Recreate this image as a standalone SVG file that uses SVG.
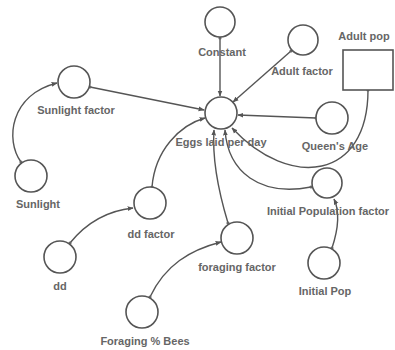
<svg xmlns="http://www.w3.org/2000/svg" width="395" height="350" viewBox="0 0 395 350">
<defs>
<marker id="arr" viewBox="0 0 10 10" refX="9" refY="5" markerWidth="6" markerHeight="6" orient="auto" markerUnits="userSpaceOnUse">
<path d="M0,1 L10,5 L0,9 z" fill="#555"/>
</marker>
<marker id="src" viewBox="0 0 10 10" refX="5" refY="5" markerWidth="4" markerHeight="4" markerUnits="userSpaceOnUse">
<circle cx="5" cy="5" r="4" fill="#666"/>
</marker>
</defs>
<style>
.n{fill:#fff;stroke:#555;stroke-width:1.6}
.c{fill:none;stroke:#555;stroke-width:1.4;marker-end:url(#arr);marker-start:url(#src)}
text{font-family:"Liberation Sans",Arial,sans-serif;font-size:11px;font-weight:bold;fill:#666;text-anchor:middle}
</style>
<rect width="395" height="350" fill="#fff"/>
<g id="connectors">
<path class="c" d="M220,38 L220,96"/>
<path class="c" d="M291,51 L233,102"/>
<path class="c" d="M90,87 L204,110"/>
<path class="c" d="M316,118 L238,115"/>
<path class="c" d="M368,90 C368,180 290,190 232,128"/>
<path class="c" d="M311,187 C260,197 228,172 225,130"/>
<path class="c" d="M228,223 C218,190 212,160 214,130"/>
<path class="c" d="M152,187 C155,150 180,125 205,118"/>
<path class="c" d="M21,162 C5,140 10,95 57,83"/>
<path class="c" d="M70,243 Q95,212 133,208"/>
<path class="c" d="M150,297 C165,265 190,250 221,242"/>
<path class="c" d="M332,248 C338,230 340,212 334,199"/>
</g>
<g id="constant"><circle class="n" cx="220" cy="22" r="15"/><text x="222" y="56">Constant</text></g>
<g id="adult-factor"><circle class="n" cx="303" cy="40" r="15"/><text x="302" y="75">Adult factor</text></g>
<g id="adult-pop"><rect class="n" x="343" y="50" width="50" height="40"/><text x="364" y="40">Adult pop</text></g>
<g id="eggs"><circle class="n" cx="221" cy="113" r="16"/><text x="221" y="146">Eggs laid per day</text></g>
<g id="queens-age"><circle class="n" cx="332" cy="118" r="16"/><text x="335" y="150">Queen's Age</text></g>
<g id="sunlight-factor"><circle class="n" cx="74" cy="82" r="16"/><text x="76" y="114">Sunlight factor</text></g>
<g id="sunlight"><circle class="n" cx="31" cy="176" r="16"/><text x="38" y="208">Sunlight</text></g>
<g id="dd-factor"><circle class="n" cx="150" cy="203" r="16"/><text x="151" y="238">dd factor</text></g>
<g id="dd"><circle class="n" cx="60" cy="257" r="16"/><text x="60" y="290">dd</text></g>
<g id="foraging-bees"><circle class="n" cx="142" cy="312" r="16"/><text x="145" y="345">Foraging % Bees</text></g>
<g id="foraging-factor"><circle class="n" cx="237" cy="238" r="16"/><text x="237" y="271">foraging factor</text></g>
<g id="initial-pop-factor"><circle class="n" cx="327" cy="183" r="15"/><text x="328" y="215">Initial Population factor</text></g>
<g id="initial-pop"><circle class="n" cx="324" cy="263" r="16"/><text x="325" y="295">Initial Pop</text></g>
</svg>
